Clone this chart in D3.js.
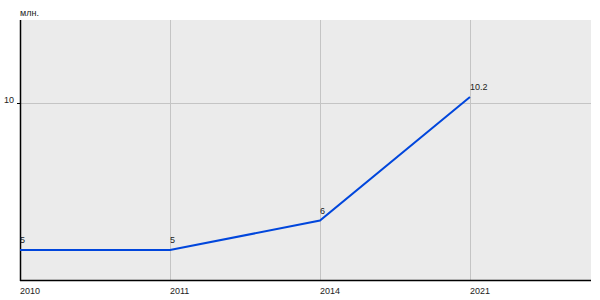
<!DOCTYPE html>
<html><head><meta charset="utf-8">
<script src="https://cdn.jsdelivr.net/npm/d3@7"></script>
<style>body{margin:0;background:#fff}svg{display:block}text{font-family:"Liberation Sans",Arial,sans-serif;font-size:9px;fill:#222}</style>
</head><body>
<script>
const categories = ["2010","2011","2014","2021"];
const values = [5, 5, 6, 10.2];
const labels = ["5","5","6","10.2"];
const yTicks = [10];
const unit = "млн.";

const W=600,H=300, L=20, R=591, T=20, B=280;
const svg=d3.select("body").append("svg").attr("width",W).attr("height",H);
const x=d3.scaleLinear().domain([0,3.807]).range([L,R]);
const y=d3.scaleLinear().domain([3.98,12.82]).range([B,T]);

svg.append("rect").attr("x",L).attr("y",T).attr("width",R-L).attr("height",B-T).attr("fill","#ebebeb");

// vertical grid
svg.selectAll(".vg").data(categories).join("line")
  .attr("x1",(d,i)=>Math.round(x(i))+0.5).attr("x2",(d,i)=>Math.round(x(i))+0.5)
  .attr("y1",T).attr("y2",B).attr("stroke","#c4c4c4").attr("stroke-width",1);
// horizontal grid
svg.selectAll(".hg").data(yTicks).join("line")
  .attr("x1",L).attr("x2",R).attr("y1",d=>Math.round(y(d))+0.5).attr("y2",d=>Math.round(y(d))+0.5)
  .attr("stroke","#c4c4c4").attr("stroke-width",1);

// axes lines
svg.append("line").attr("x1",L+0.5).attr("x2",L+0.5).attr("y1",T).attr("y2",B+1).attr("stroke","#000").attr("stroke-width",1.5);
svg.append("line").attr("x1",L).attr("x2",R).attr("y1",B+0.5).attr("y2",B+0.5).attr("stroke","#000").attr("stroke-width",1.5);

// y ticks
svg.selectAll(".yt").data(yTicks).join("line")
  .attr("x1",L-3).attr("x2",L).attr("y1",d=>Math.round(y(d))+0.5).attr("y2",d=>Math.round(y(d))+0.5).attr("stroke","#000");
svg.selectAll(".yl").data(yTicks).join("text")
  .attr("x",L-6).attr("y",d=>y(d)).attr("text-anchor","end").text(d=>d);

// x labels
svg.selectAll(".xl").data(categories).join("text")
  .attr("x",(d,i)=>x(i)).attr("y",293.5).text(d=>d);

// unit
svg.append("text").attr("x",L).attr("y",16).text(unit);

// line
svg.append("path").datum(values)
  .attr("d",d3.line().x((d,i)=>x(i)).y(d=>y(d)))
  .attr("fill","none").attr("stroke","#0046dc").attr("stroke-width",2);

// data labels
svg.selectAll(".dl").data(values).join("text")
  .attr("x",(d,i)=>x(i)).attr("y",d=>y(d)-7).text((d,i)=>labels[i]);
</script>
</body></html>
